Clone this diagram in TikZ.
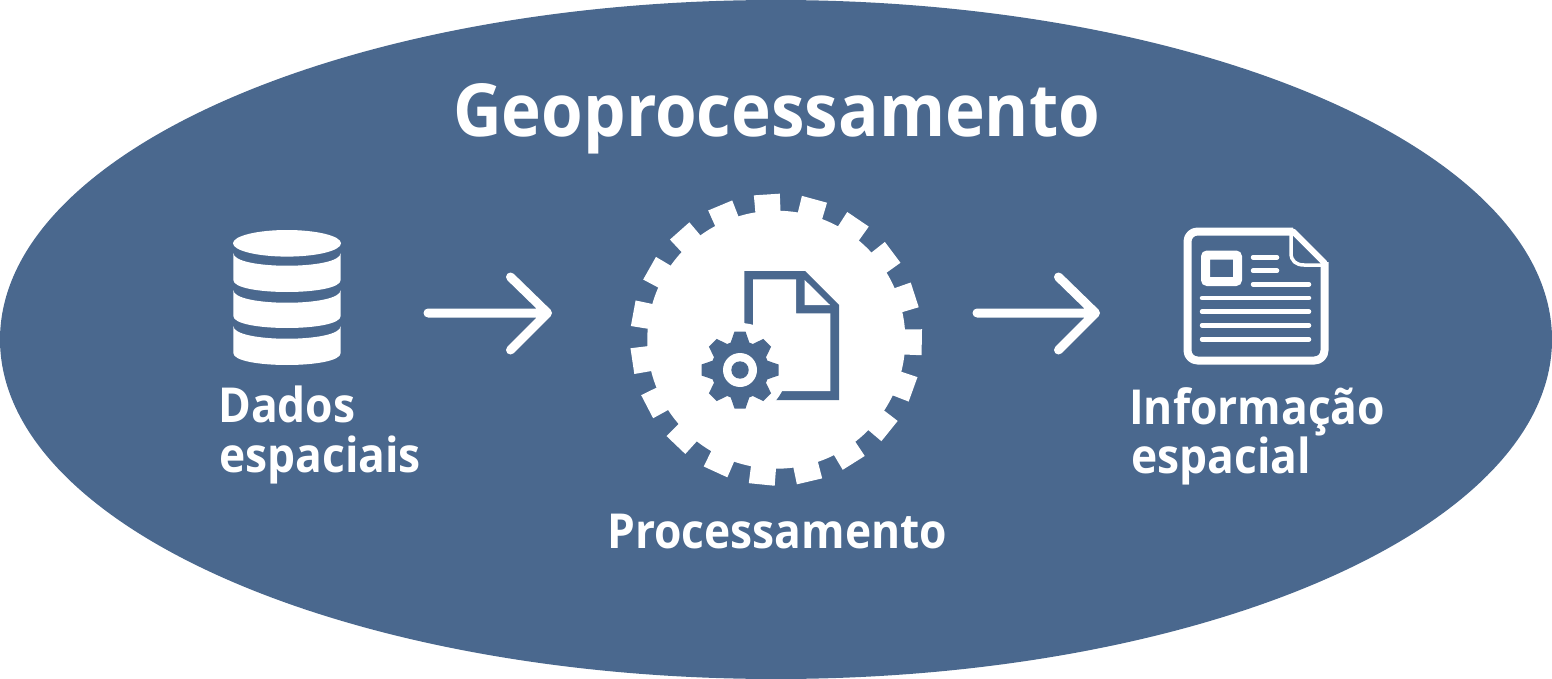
\documentclass[tikz,border=0pt]{standalone}
\usepackage{fontspec}
\setmainfont{Open Sans}[BoldFont={Open Sans Bold},BoldFeatures={FakeStretch=0.92}]
\definecolor{steel}{HTML}{4A688E}
\tikzset{
  x=1pt,y=-1pt,
  lbl/.style={text=white,font=\bfseries\fontsize{#1}{#1}\selectfont,inner sep=0pt,anchor=base west},
  flowarrow/.style={draw=white,line width=9pt,line cap=round,line join=round},
  iconline/.style={draw=white,line width=4.5pt,line cap=round},
}
\newcommand{\dbband}[2]{\fill[white] (233.3,#1) .. controls (233.3,#1+17) and (340.7,#1+17) .. (340.7,#1) -- (340.7,#2) .. controls (340.7,#2+16) and (233.3,#2+16) .. (233.3,#2) -- cycle;}
\begin{document}
\begin{tikzpicture}
\useasboundingbox (0,0) rectangle (1552,679);
\fill[steel] (776,339.5) ellipse [x radius=776,y radius=339.5];
\node[lbl=73.2] (title) at (453,137) {Geoprocessamento};
% database
\fill[white] (287,243.3) ellipse [x radius=54,y radius=13.3];
\dbband{253}{280}
\dbband{290}{316}
\dbband{326}{353}
\node[lbl=48.2] (dados) at (218,422) {Dados};
\node[lbl=48.2] (espaciais) at (219,472) {espaciais};
% arrows
\coordinate (a1s) at (428,313);
\coordinate (a1e) at (547.5,313);
\coordinate (a2s) at (977,313);
\coordinate (a2e) at (1095.5,313);
\draw[flowarrow] (a1s) -- (a1e) ++(-37,-36) -- (a1e) -- ++(-37,37);
\draw[flowarrow] (a2s) -- (a2e) ++(-37,-36) -- (a2e) -- ++(-37,37);
% big gear
\fill[white] (776.3,339.7) circle [radius=129];
\foreach \i in {0,...,18}{
  \pgfmathsetmacro{\ang}{-1+18.947*\i}
  \begin{scope}[shift={(776.3,339.7)},rotate=\ang]
    \fill[white] (125,-12.5) -- (145.5,-13) -- (145.5,13) -- (125,12.5) -- cycle;
  \end{scope}
}
% page
\fill[steel] (744.3,271) -- (805,271) -- (839,305) -- (839,400) -- (744.3,400) -- cycle;
\fill[white] (753,279.3) -- (796,279.3) -- (796,313.3) -- (830.3,313.3) -- (830.3,391) -- (753,391) -- cycle;
\fill[white] (804.7,280) -- (804.7,305) -- (830,305) -- cycle;
\fill[white] (740,370) circle [radius=47];
% small gear
\foreach \i in {0,...,7}{
  \begin{scope}[shift={(740,370)},rotate=45*\i]
    \fill[steel] (24,-10.5) -- (38.5,-5.5) -- (38.5,5.5) -- (24,10.5) -- cycle;
  \end{scope}
}
\fill[steel] (740,370) circle [radius=29];
\fill[white] (740,370) circle [radius=17];
\fill[steel] (740,370) circle [radius=8.7];
\node[lbl=48.2] (proc) at (607,548) {Processamento};
% document icon
\begin{scope}[line join=round]
\draw[white,line width=8pt,rounded corners=10pt] (1293,231.5) -- (1187.5,231.5) -- (1187.5,360.5) -- (1324.5,360.5) -- (1324.5,262);
\draw[white,line width=6pt,line cap=round] (1293,231.5) -- (1324.5,263);
\end{scope}
\draw[white,line width=3.5pt] (1291,233) -- (1291,253) .. controls (1291,261) and (1296,265) .. (1304,265) -- (1326,265);
\draw[white,line width=9pt,rounded corners=2pt] (1205.5,255) rectangle (1237.5,281.5);
\draw[iconline] (1253,257.3) -- (1277,257.3);
\draw[iconline] (1253,270.7) -- (1277,270.7);
\draw[iconline] (1253,284.3) -- (1309,284.3);
\foreach \yy in {298,311.7,325.3,339.3}{\draw[iconline] (1202,\yy) -- (1309,\yy);}
\node[lbl=48.2] (info) at (1129,424) {Informação};
\node[lbl=48.2] (espacial) at (1131,473) {espacial};
\end{tikzpicture}
\end{document}
